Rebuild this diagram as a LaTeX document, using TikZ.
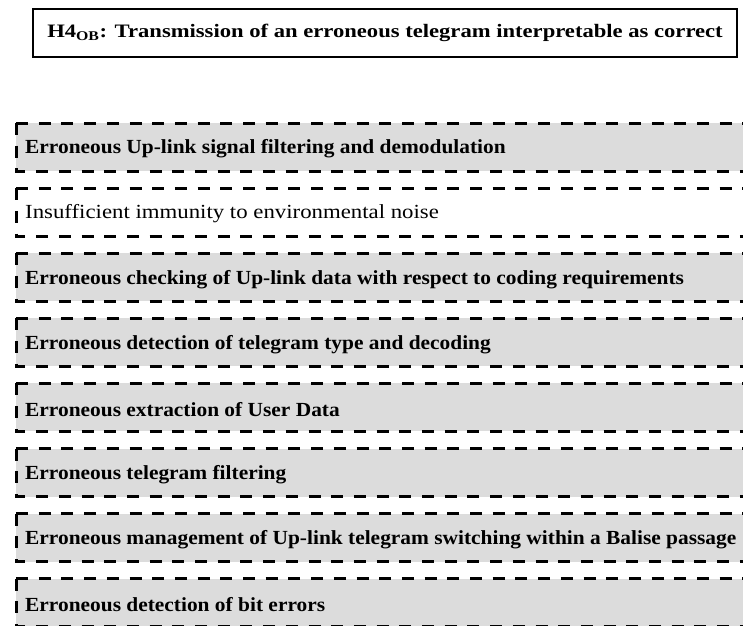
\documentclass[tikz,border=0pt]{standalone}
\usepackage{fontspec}
\usepackage{graphicx}
\setmainfont{Liberation Serif}
\definecolor{boxgray}{RGB}{220,220,220}
\tikzset{
  titlebox/.style={draw=black, line width=2.5pt, minimum width=704pt, minimum height=48pt, inner sep=0pt, font=\fontsize{19}{22}\selectfont\bfseries},
  dashline/.style={line width=3pt, dash pattern=on 12pt off 10.7pt},
  itemtext/.style={anchor=west, inner sep=0pt, font=\fontsize{20}{23}\selectfont},
}
\newcommand{\boldline}[1]{\scalebox{1.07}[1]{\bfseries #1}}
\newcommand{\plainline}[1]{\scalebox{1.14}[1]{#1}}
\begin{document}
\begin{tikzpicture}[x=1pt,y=-1pt]
\useasboundingbox (0,0) rectangle (743,625);
\clip (0,0) rectangle (743,625);
\node[titlebox] (title) at (385,33) {\scalebox{1.19}[1]{H4\textsubscript{OB}: Transmission of an erroneous telegram interpretable as correct}};
\foreach \i/\t/\f/\b in {
  0/{Erroneous Up-link signal filtering and demodulation}/boxgray/1,
  1/{Insufficient immunity to environmental noise}/white/0,
  2/{Erroneous checking of Up-link data with respect to coding requirements}/boxgray/1,
  3/{Erroneous detection of telegram type and decoding}/boxgray/1,
  4/{Erroneous extraction of User Data}/boxgray/1,
  5/{Erroneous telegram filtering}/boxgray/1,
  6/{Erroneous management of Up-link telegram switching within a Balise passage}/boxgray/1,
  7/{Erroneous detection of bit errors}/boxgray/1} {
  \pgfmathsetmacro{\top}{123+65.1*\i}
  \pgfmathsetmacro{\bot}{\top+48}
  \fill[\f] (16,\top) rectangle (800,\bot);
  \draw[dashline] (16,\top) -- (800,\top);
  \draw[dashline] (16,\top) -- (16,\bot) -- (800,\bot);
  \ifnum\b=1
    \node[itemtext] (item\i) at (25,\top+26) {\boldline{\t}};
  \else
    \node[itemtext] (item\i) at (25,\top+26) {\plainline{\t}};
  \fi
}
\end{tikzpicture}
\end{document}
